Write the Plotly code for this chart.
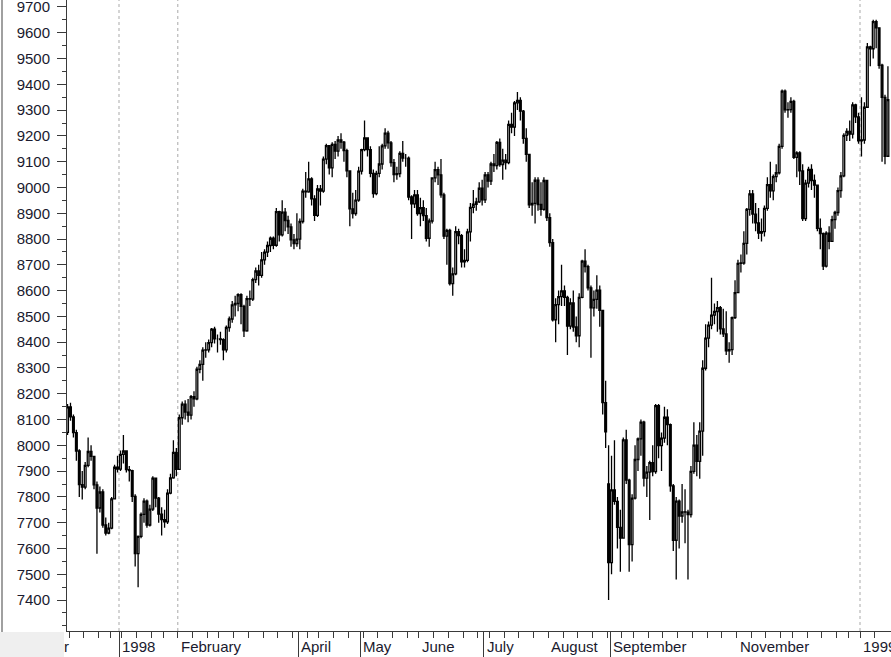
import numpy as np
import pandas as pd
import plotly.graph_objects as go

# ---------------- data ----------------
start_date = "1997-12-05"
end_date = "1999-01-15"
holidays = ["1997-12-25", "1998-01-01", "1998-01-19", "1998-02-16", "1998-04-10",
            "1998-05-25", "1998-07-03", "1998-09-07", "1998-11-26", "1998-12-25",
            "1999-01-01", "1999-01-18"]

closes = [
    # Dec 1997
    8149, 8110, 8049, 7978, 7848, 7838, 7922, 7976, 7957, 7847, 7757, 7819, 7691, 7660, 7679, 7792, 7915, 7908,
    # Jan 1998
    7965, 7978, 7906, 7902, 7802, 7580, 7647, 7732, 7784, 7691, 7753, 7873, 7795, 7733, 7712, 7703, 7815, 7874, 7973, 7907,
    # Feb
    8107, 8160, 8129, 8117, 8189, 8180, 8295, 8314, 8369, 8370, 8398, 8451, 8413, 8413, 8410, 8370, 8457, 8490, 8545,
    # Mar
    8550, 8584, 8539, 8444, 8569, 8567, 8643, 8676, 8659, 8719, 8749, 8775, 8803, 8776, 8906, 8816, 8904, 8872, 8847, 8797, 8782, 8800,
    # Apr
    8868, 8986, 8983, 9033, 8956, 8892, 8994, 8986, 9110, 9162, 9076, 9167, 9141, 9184, 9176, 9143, 9064, 8917, 8899, 8951, 9063,
    # May
    9147, 9192, 9147, 9055, 8976, 9055, 9091, 9161, 9211, 9173, 9096, 9050, 9054, 9132, 9114, 9114, 8963, 8936, 8971, 8899,
    # Jun
    8922, 8891, 8803, 8870, 9037, 9069, 9049, 8971, 8811, 8834, 8627, 8665, 8829, 8813, 8712, 8717, 8828, 8923, 8935, 8944, 8997, 8952,
    # Jul
    9049, 9025, 9091, 9085, 9175, 9089, 9106, 9096, 9245, 9234, 9328, 9338, 9296, 9190, 9128, 8933, 8938, 9028, 8934, 8915, 9027, 8883,
    # Aug
    8786, 8487, 8546, 8577, 8599, 8574, 8462, 8552, 8459, 8425, 8574, 8714, 8693, 8611, 8533, 8566, 8602, 8523, 8166, 8052, 7545,
    # Sep
    7827, 7783, 7682, 7640, 8021, 7865, 7615, 7795, 7945, 8025, 8090, 7873, 7896, 7933, 7898, 8154, 7999, 8028, 8109, 8080, 7843,
    # Oct
    7632, 7784, 7726, 7742, 7741, 7731, 7899, 8001, 7938, 8055, 8299, 8416, 8466, 8505, 8519, 8534, 8452, 8432, 8366, 8371, 8495, 8592,
    # Nov
    8706, 8707, 8783, 8915, 8975, 8897, 8863, 8823, 8829, 8919, 9011, 8987, 9042, 9057, 9159, 9374, 9301, 9302, 9334, 9117,
    # Dec
    9134, 9064, 8879, 9017, 9070, 9027, 9009, 8841, 8821, 8695, 8823, 8791, 8875, 8903, 8988, 9045, 9202, 9217, 9207, 9320, 9274, 9181,
    # Jan 1999
    9184, 9311, 9545, 9538, 9643, 9619, 9474, 9349, 9121, 9341,
]

opens = [
    8050, 8149, 8110, 8049, 7978, 7848, 7838, 7922, 7976, 7957, 7847, 7757, 7819, 7691, 7660, 7679, 7792, 7915,
    7908, 7965, 7978, 7906, 7902, 7802, 7580, 7647, 7732, 7784, 7691, 7753, 7873, 7795, 7733, 7712, 7703, 7815, 7874, 7973,
    7907, 8107, 8160, 8129, 8117, 8189, 8180, 8295, 8314, 8369, 8370, 8398, 8451, 8413, 8413, 8410, 8370, 8457, 8490,
    8545, 8550, 8584, 8539, 8444, 8569, 8567, 8643, 8676, 8659, 8719, 8749, 8775, 8803, 8776, 8906, 8816, 8904, 8872, 8847, 8797, 8782,
    8800, 8868, 8986, 8983, 9033, 8956, 8892, 8994, 8986, 9110, 9162, 9076, 9167, 9141, 9184, 9176, 9143, 9064, 8917, 8899, 8951,
    9063, 9147, 9192, 9147, 9055, 8976, 9055, 9091, 9161, 9211, 9173, 9096, 9050, 9054, 9132, 9114, 9114, 8963, 8936, 8971,
    8899, 8922, 8891, 8803, 8870, 9037, 9069, 9049, 8971, 8811, 8834, 8627, 8665, 8829, 8813, 8712, 8717, 8828, 8923, 8935, 8944, 8997,
    8952, 9049, 9025, 9091, 9085, 9175, 9089, 9106, 9096, 9245, 9234, 9328, 9338, 9296, 9190, 9128, 8933, 8938, 9028, 8934, 8915, 9027,
    8883, 8786, 8487, 8546, 8577, 8599, 8574, 8462, 8552, 8459, 8425, 8574, 8714, 8693, 8611, 8533, 8566, 8602, 8523, 8166, 7850,
    7545, 7827, 7783, 7682, 7640, 8021, 7865, 7615, 7795, 7945, 8025, 8090, 7873, 7896, 7933, 7898, 8154, 7999, 8028, 8109, 8080,
    7843, 7632, 7784, 7726, 7742, 7741, 7731, 7899, 8001, 7938, 8055, 8299, 8416, 8466, 8505, 8519, 8534, 8452, 8432, 8366, 8371, 8495,
    8592, 8706, 8707, 8783, 8915, 8975, 8897, 8863, 8823, 8829, 8919, 9011, 8987, 9042, 9057, 9159, 9374, 9301, 9302, 9334,
    9117, 9134, 9064, 8879, 9017, 9070, 9027, 9009, 8841, 8821, 8695, 8823, 8791, 8875, 8903, 8988, 9045, 9202, 9217, 9207, 9320, 9274,
    9181, 9184, 9311, 9545, 9538, 9643, 9619, 9474, 9349, 9121,
]

highs = [
    8160, 8165, 8120, 8060, 7985, 7900, 7935, 8030, 8000, 7960, 7860, 7840, 7830, 7720, 7700, 7800, 7925, 7960,
    7980, 8040, 7980, 7920, 7905, 7810, 7650, 7740, 7795, 7790, 7770, 7880, 7875, 7800, 7760, 7750, 7830, 7890, 8020, 7990,
    8120, 8170, 8175, 8180, 8195, 8210, 8305, 8330, 8380, 8400, 8410, 8455, 8460, 8430, 8440, 8415, 8465, 8500, 8560,
    8580, 8590, 8590, 8545, 8580, 8600, 8650, 8690, 8700, 8750, 8760, 8790, 8810, 8810, 8920, 8910, 8950, 8920, 8890, 8860, 8820, 8900,
    8880, 8995, 9060, 9100, 9040, 8970, 9010, 9010, 9120, 9170, 9165, 9175, 9180, 9200, 9210, 9180, 9150, 9065, 8980, 8990, 9080,
    9150, 9260, 9195, 9160, 9070, 9065, 9160, 9170, 9230, 9220, 9180, 9110, 9080, 9140, 9180, 9130, 9120, 8970, 8990, 8990,
    8960, 8950, 8920, 8880, 9040, 9100, 9080, 9110, 8980, 8840, 8840, 8690, 8850, 8840, 8820, 8760, 8840, 8940, 8990, 8960, 9020, 9030,
    9060, 9060, 9100, 9130, 9180, 9190, 9150, 9130, 9260, 9290, 9335, 9370, 9350, 9300, 9230, 9130, 9020, 9040, 9040, 9020, 9040, 9030,
    8900, 8800, 8570, 8600, 8700, 8620, 8580, 8570, 8600, 8500, 8590, 8720, 8760, 8700, 8620, 8600, 8660, 8620, 8525, 8250, 8000,
    7960, 8020, 7800, 7750, 8030, 8060, 7870, 7810, 8000, 8030, 8100, 8095, 7920, 7940, 8000, 8160, 8160, 8050, 8150, 8140, 8085,
    7850, 7800, 7790, 7850, 7830, 7750, 7920, 8090, 8040, 8090, 8330, 8470, 8480, 8650, 8550, 8560, 8540, 8530, 8520, 8400, 8500, 8640,
    8720, 8740, 8830, 8920, 8990, 8990, 8940, 8920, 8880, 8930, 9040, 9100, 9050, 9090, 9170, 9380, 9380, 9330, 9350, 9340,
    9140, 9140, 9090, 9030, 9080, 9090, 9050, 9010, 8880, 8825, 8830, 8850, 8890, 8910, 9000, 9060, 9210, 9230, 9260, 9330, 9325, 9290,
    9350, 9330, 9560, 9550, 9650, 9650, 9620, 9480, 9360, 9470,
]

lows = [
    8040, 8095, 8030, 7940, 7800, 7790, 7830, 7915, 7940, 7830, 7580, 7740, 7680, 7650, 7655, 7675, 7790, 7895,
    7900, 7930, 7895, 7860, 7780, 7530, 7450, 7640, 7700, 7680, 7685, 7745, 7760, 7700, 7650, 7680, 7695, 7810, 7870, 7880,
    7905, 8080, 8100, 8090, 8100, 8150, 8175, 8280, 8250, 8340, 8360, 8380, 8395, 8360, 8390, 8330, 8360, 8440, 8475,
    8500, 8520, 8470, 8420, 8440, 8540, 8560, 8630, 8620, 8650, 8700, 8730, 8750, 8760, 8770, 8790, 8810, 8830, 8820, 8770, 8760, 8770,
    8760, 8860, 8960, 8980, 8930, 8870, 8885, 8930, 8980, 9090, 9050, 9040, 9110, 9120, 9150, 9100, 9040, 8850, 8880, 8890, 8945,
    9050, 9140, 9120, 9040, 8960, 8970, 9040, 9070, 9150, 9150, 9080, 9020, 9030, 9040, 9100, 9080, 8950, 8800, 8920, 8890,
    8850, 8870, 8790, 8770, 8860, 9020, 9010, 8960, 8800, 8700, 8620, 8580, 8660, 8780, 8690, 8690, 8710, 8790, 8900, 8910, 8940, 8930,
    8940, 9000, 9010, 9060, 9070, 9080, 9030, 9070, 9090, 9210, 9200, 9300, 9260, 9170, 9100, 8920, 8890, 8860, 8910, 8890, 8910, 8870,
    8770, 8480, 8400, 8470, 8540, 8540, 8350, 8450, 8440, 8400, 8380, 8570, 8670, 8600, 8340, 8500, 8530, 8460, 8120, 7990, 7400,
    7500, 7770, 7600, 7510, 7640, 7850, 7510, 7550, 7790, 7900, 7960, 7840, 7800, 7710, 7880, 7890, 7950, 7900, 8010, 8000, 7820,
    7590, 7480, 7600, 7700, 7620, 7480, 7720, 7890, 7880, 7870, 7960, 8290, 8380, 8450, 8470, 8440, 8430, 8420, 8350, 8320, 8350, 8490,
    8590, 8670, 8700, 8740, 8890, 8860, 8830, 8800, 8790, 8810, 8910, 8960, 8950, 9020, 9050, 9150, 9290, 9270, 9290, 9110,
    9040, 9010, 8870, 8870, 9000, 8990, 8960, 8830, 8760, 8680, 8690, 8760, 8790, 8840, 8890, 8960, 9040, 9180, 9180, 9190, 9250, 9170,
    9120, 9170, 9310, 9470, 9500, 9540, 9460, 9100, 9090, 9120,
]

y_ticks = list(range(7400, 9701, 100))
label_months = ["1998-01", "1998-02", "1998-04", "1998-05", "1998-06", "1998-07",
                "1998-08", "1998-09", "1998-11", "1999-01"]
label_texts = ["1998", "February", "April", "May", "June", "July",
               "August", "September", "November", "1999"]
dashed_months = ["1998-01", "1998-02", "1999-01"]

# ---------------- positions ----------------
dates = pd.bdate_range(start_date, end_date, freq="C", holidays=holidays)
n = min(len(dates), len(closes))
dates = dates[:n]
x = np.arange(n)

month_keys = dates.strftime("%Y-%m")
first_idx = {}
for i, k in enumerate(month_keys):
    if k not in first_idx:
        first_idx[k] = i

week_starts = [i - 0.5 for i in range(1, n)
               if dates[i].weekday() < dates[i - 1].weekday()]

major_pos = [first_idx[m] - 0.5 for m in label_months if m in first_idx]

W, H = 891, 657
L, R, T, B = 67, 0, 0, 26
PW, PH = W - L - R, H - T - B
px_per_day = 2.9405

fig = go.Figure()
fig.add_trace(go.Candlestick(
    x=x, open=opens[:n], high=highs[:n], low=lows[:n], close=closes[:n],
    increasing=dict(line=dict(color="black", width=1.3), fillcolor="white"),
    decreasing=dict(line=dict(color="black", width=1.3), fillcolor="black"),
    whiskerwidth=0, showlegend=False, hoverinfo="skip",
))

shapes = []
for m in dashed_months:
    if m in first_idx:
        xv = first_idx[m] - 0.5
        shapes.append(dict(type="line", xref="x", yref="paper", x0=xv, x1=xv, y0=0, y1=1,
                           line=dict(color="#a9a9a9", width=1, dash="3px,3px"), layer="below"))
# left panel border and bottom-left grey corner
shapes.append(dict(type="rect", xref="paper", yref="paper",
                   x0=-L / PW, x1=-3 / PW, y0=-B / PH, y1=-1 / PH,
                   fillcolor="#efefef", line=dict(width=0)))
shapes.append(dict(type="line", xref="paper", yref="paper",
                   x0=-65 / PW, x1=-65 / PW, y0=-1 / PH, y1=1,
                   line=dict(color="#a0a0a0", width=2)))

label_font = dict(family="Liberation Sans, Arial", size=15, color="#1a1a2e")
annotations = []
for m, t in zip(label_months, label_texts):
    if m in first_idx:
        annotations.append(dict(x=first_idx[m] - 0.5, xref="x", y=-15 / PH, yref="paper",
                                text=t, showarrow=False, xanchor="left", yanchor="middle",
                                xshift=1, font=label_font))
annotations.append(dict(x=-5 / PW, xref="paper", y=-15 / PH, yref="paper", text="r",
                        showarrow=False, xanchor="left", yanchor="middle", font=label_font))

x_left = (first_idx["1998-01"] - 0.5) - 52 / px_per_day
x_right = (first_idx["1999-01"] - 0.5) + 31 / px_per_day

fig.update_layout(
    width=W, height=H,
    margin=dict(l=L, r=R, t=T, b=B, pad=0),
    paper_bgcolor="white", plot_bgcolor="white",
    boxgap=0.15,
    shapes=shapes, annotations=annotations,
    xaxis=dict(
        range=[x_left, x_right], rangeslider=dict(visible=False), automargin=False,
        showgrid=False, zeroline=False, showline=True, linecolor="#3a3a3a", linewidth=1,
        tickmode="array", tickvals=major_pos, ticktext=["" for _ in major_pos],
        ticks="outside", ticklen=27, tickcolor="#3a3a3a", tickwidth=1,
        minor=dict(tickmode="array", tickvals=week_starts, ticks="outside",
                   ticklen=6, tickcolor="#3a3a3a", tickwidth=1, showgrid=False),
    ),
    yaxis=dict(
        range=[7280, 9727], showgrid=False, zeroline=False, automargin=False,
        showline=True, linecolor="#3a3a3a", linewidth=1,
        tickmode="array", tickvals=y_ticks, ticktext=[str(v) for v in y_ticks],
        ticks="outside", ticklen=9, tickcolor="#3a3a3a", tickwidth=1,
        ticklabelstandoff=4, ticklabeloverflow="allow",
        tickfont=label_font,
        minor=dict(dtick=50, tick0=7300, ticks="outside", ticklen=4,
                   tickcolor="#3a3a3a", tickwidth=1, showgrid=False),
    ),
)

fig.write_html("out.html", config={"displayModeBar": False},
               post_script="document.body.style.margin='0';document.body.style.overflow='hidden';")
